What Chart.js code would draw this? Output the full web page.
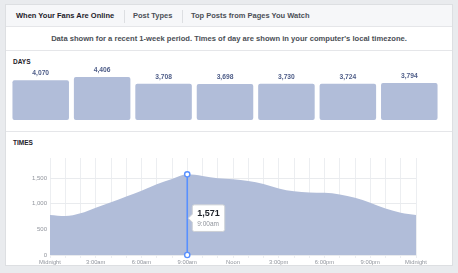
<!DOCTYPE html>
<html>
<head>
<meta charset="utf-8">
<script src="https://cdn.jsdelivr.net/npm/chart.js@4.4.1/dist/chart.umd.min.js"></script>
<style>
  html, body { margin:0; padding:0; }
  body { width:458px; height:273px; background:#e9ebee; position:relative; overflow:hidden;
         font-family:"Liberation Sans", Arial, Helvetica, sans-serif; }
  .card { position:absolute; left:5px; top:4px; width:446px; height:260px; background:#fff;
          border:1px solid #dddfe2; }
  .tabs { position:absolute; left:0; top:0; width:446px; height:21px; background:#f6f7f9;
          border-bottom:1px solid #e5e6e9; }
  .tab { position:absolute; top:0; line-height:22px; font-size:7.5px; font-weight:bold; color:#4b4f56; white-space:nowrap; }
  .tab.active { color:#1d2129; }
  .sep { position:absolute; top:5px; width:1px; height:13px; background:#dddfe2; }
  .sub { position:absolute; left:0; top:22px; width:446px; height:23px; line-height:23px; text-align:center;
         font-size:7.6px; font-weight:bold; color:#4b4f56; border-bottom:1px solid #e5e6e9; white-space:nowrap; }
  .line2 { position:absolute; left:0; top:126px; width:446px; height:1px; background:#e5e6e9; }
  .hdr { position:absolute; font-size:6.5px; font-weight:bold; color:#1d2129; }
  canvas { position:absolute; }
</style>
</head>
<body>
<div class="card">
  <div class="tabs">
    <div class="tab active" style="left:10px">When Your Fans Are Online</div>
    <div class="sep" style="left:118px"></div>
    <div class="tab" style="left:127px">Post Types</div>
    <div class="sep" style="left:176px"></div>
    <div class="tab" style="left:185px">Top Posts from Pages You Watch</div>
  </div>
  <div class="sub">Data shown for a recent 1-week period. Times of day are shown in your computer's local timezone.</div>
  <div class="hdr" style="left:7px; top:53px">DAYS</div>
  <div class="line2"></div>
  <div class="hdr" style="left:7px; top:134px">TIMES</div>
</div>
<canvas id="days" width="430" height="70" style="left:10px; top:62px; width:430px; height:70px"></canvas>
<canvas id="times" width="440" height="118" style="left:5px; top:150px; width:440px; height:118px"></canvas>
<script>
// ---- data ----
const dayLabels = ['Sun', 'Mon', 'Tue', 'Wed', 'Thu', 'Fri', 'Sat'];
const dayValues = [4070, 4406, 3708, 3698, 3730, 3724, 3794];

const hourLabels = ['Midnight','1:00am','2:00am','3:00am','4:00am','5:00am','6:00am','7:00am','8:00am','9:00am','10:00am','11:00am',
                    'Noon','1:00pm','2:00pm','3:00pm','4:00pm','5:00pm','6:00pm','7:00pm','8:00pm','9:00pm','10:00pm','11:00pm','Midnight'];
const hourValues = [780, 760, 813, 922, 1027, 1138, 1254, 1378, 1482, 1571, 1540, 1495,
                    1474, 1441, 1383, 1298, 1240, 1220, 1213, 1181, 1116, 1019, 908, 824, 780];
const yTickValues = [0, 500, 1000, 1500];
const highlightIndex = 9;

const FONT = '"Liberation Sans", Arial, Helvetica, sans-serif';
const FILL = '#b1bdd9';
const BLUE = '#5890ff';
Chart.defaults.font.family = FONT;
Chart.defaults.animation = false;

// ---- DAYS bar chart ----
const valueLabels = {
  id: 'valueLabels',
  afterDatasetsDraw(chart) {
    const ctx = chart.ctx;
    const meta = chart.getDatasetMeta(0);
    ctx.save();
    ctx.font = 'bold 6.7px ' + FONT;
    ctx.fillStyle = '#4e5d88';
    ctx.textAlign = 'center';
    ctx.textBaseline = 'bottom';
    meta.data.forEach((bar, i) => {
      ctx.fillText(dayValues[i].toLocaleString('en-US'), bar.x, bar.y - 3.5);
    });
    ctx.restore();
  }
};

new Chart(document.getElementById('days'), {
  type: 'bar',
  data: { labels: dayLabels, datasets: [{ data: dayValues, backgroundColor: FILL, borderRadius: 2,
           borderSkipped: false, categoryPercentage: 0.92, barPercentage: 1 }] },
  options: {
    responsive: false, events: [],
    layout: { padding: 0 },
    plugins: { legend: { display: false }, tooltip: { enabled: false } },
    scales: {
      x: { grid: { display: false }, border: { display: false },
           ticks: { color: '#90949c', font: { size: 5.5 }, padding: 3 },
           afterFit(s) { s.height = 12; s.paddingLeft = 0; s.paddingRight = 0; } },
      y: { display: false, min: 0, max: 5950 }
    }
  },
  plugins: [valueLabels]
});

// ---- TIMES area chart ----
Chart.Tooltip.positioners.fbRight = function(items) {
  if (!items.length) return false;
  const ca = this.chart.chartArea;
  return { x: items[0].element.x, y: ca.top + (ca.bottom - ca.top) * 0.62 };
};

const highlight = {
  id: 'highlight',
  afterDatasetsDraw(chart) {
    const ctx = chart.ctx;
    const pt = chart.getDatasetMeta(0).data[highlightIndex];
    const y0 = chart.scales.y.getPixelForValue(0);
    ctx.save();
    ctx.strokeStyle = BLUE;
    ctx.lineWidth = 1.6;
    ctx.beginPath(); ctx.moveTo(pt.x, pt.y); ctx.lineTo(pt.x, y0); ctx.stroke();
    ctx.fillStyle = '#fff';
    ctx.lineWidth = 1.4;
    [pt.y, y0].forEach(y => { ctx.beginPath(); ctx.arc(pt.x, y, 2.6, 0, Math.PI * 2); ctx.fill(); ctx.stroke(); });
    ctx.restore();
  }
};

const timesChart = new Chart(document.getElementById('times'), {
  type: 'line',
  data: { labels: hourLabels, datasets: [{ data: hourValues, fill: 'origin', backgroundColor: FILL,
           borderWidth: 0, borderColor: FILL, pointRadius: 0, pointHoverRadius: 0, cubicInterpolationMode: 'monotone' }] },
  options: {
    responsive: false, events: [],
    layout: { padding: { top: 8, right: 29, left: 0, bottom: 0 } },
    plugins: {
      legend: { display: false },
      tooltip: {
        enabled: true, position: 'fbRight', xAlign: 'left', yAlign: 'center', animation: false,
        backgroundColor: '#fff', borderColor: '#ccd0d5', borderWidth: 1, cornerRadius: 2,
        caretSize: 4, caretPadding: 1, displayColors: false,
        padding: { left: 5, right: 5, top: 3.5, bottom: 3.5 },
        titleColor: '#1d2129', titleFont: { size: 9, weight: 'bold' }, titleMarginBottom: 1,
        bodyColor: '#90949c', bodyFont: { size: 6.5 },
        callbacks: {
          title: items => items[0].formattedValue,
          label: item => item.label
        }
      }
    },
    scales: {
      x: {
        grid: { color: '#eceef1', tickLength: 3, drawOnChartArea: true },
        border: { display: false },
        ticks: { color: '#90949c', font: { size: 5.8 }, padding: 1, autoSkip: false, maxRotation: 0,
                 callback: (v, i) => (i % 3 === 0 ? hourLabels[i] : '') },
        afterFit(s) { s.height = 13; s.paddingLeft = 0; s.paddingRight = 0; }
      },
      y: {
        min: 0, max: 1890,
        grid: { color: '#e9ebee', drawTicks: false },
        border: { display: false },
        ticks: { color: '#90949c', font: { size: 6 }, padding: 3 },
        afterBuildTicks(s) { s.ticks = yTickValues.map(v => ({ value: v })); },
        afterFit(s) { s.width = 45; s.paddingTop = 0; s.paddingBottom = 0; }
      }
    }
  },
  plugins: [highlight]
});

timesChart.setActiveElements([{ datasetIndex: 0, index: highlightIndex }]);
timesChart.tooltip.setActiveElements([{ datasetIndex: 0, index: highlightIndex }], { x: 0, y: 0 });
timesChart.update();
</script>
</body>
</html>
